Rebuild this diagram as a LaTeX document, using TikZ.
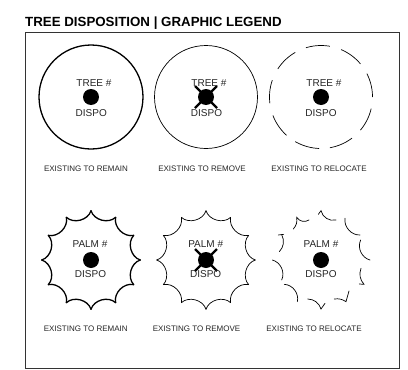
\documentclass[tikz,border=0pt]{standalone}
\usepackage{fontspec}
\setmainfont{Liberation Sans}
\tikzset{
  x=1pt,y=-1pt,
  titletext/.style={inner sep=0,anchor=base west,font=\bfseries\fontsize{13.3}{14}\selectfont},
  num/.style={inner sep=0,font=\fontsize{10}{12}\selectfont,text=black!85},
  captext/.style={inner sep=0,font=\fontsize{8}{10}\selectfont,text=black!85},
  thickline/.style={line width=1.3pt},
  thinline/.style={line width=0.7pt},
  dot/.style={circle,fill=black,inner sep=0,minimum size=16pt},
  crossmark/.style={line width=2.2pt},
  frag/.style={line width=0.7pt,x=0.3333pt,y=-0.3333pt,line cap=round},
}
\newcommand{\scallop}[1]{%
  \foreach \a in {0,30,...,330}{
    \pgfmathsetmacro{\b}{\a+30}
    \draw[#1,line cap=round] (\a:49.3) to[bend right=58] (\b:49.3);
  }%
}
\begin{document}
\begin{tikzpicture}
\useasboundingbox (0,0) rectangle (408,370);
\fill[white] (0,0) rectangle (408,370);
\node[titletext] (t) at (25,26) {TREE DISPOSITION | GRAPHIC LEGEND};
\draw[line width=0.8pt,black!80] (25,32) rectangle (399,368);
% tree row
\draw[thickline] (91,97) circle (52);
\draw[thinline] (206,97) circle (51.5);
\foreach \p/\q in {80/107,40/67,0/27,-40/-13,-80/-53,-120/-92,-159/-132,-199/-173,-240/-213}{
  \draw[thinline] plot[domain=\p:\q,smooth,samples=12,variable=\t] ({321+51.5*cos(\t)},{97-51.5*sin(\t)});
}
\foreach \x/\n in {91/a,206/b,321/c}{\node[dot] (d\n) at (\x,97) {};}
\draw[crossmark] (195,86) -- (217,108) (195,108) -- (217,86);
\node[num] (a1) at (94,82.6) {TREE \#};
\node[num] (a2) at (91.3,112.6) {DISPO};
\node[num] (b1) at (209,82.6) {TREE \#};
\node[num] (b2) at (206.5,112.6) {DISPO};
\node[num] (c1) at (324,82.6) {TREE \#};
\node[num] (c2) at (321,112.6) {DISPO};
\node[captext] (a3) at (86,169) {EXISTING TO REMAIN};
\node[captext] (b3) at (202,169) {EXISTING TO REMOVE};
\node[captext] (c3) at (319,169) {EXISTING TO RELOCATE};
% palm row
\begin{scope}[shift={(91,260)}]\scallop{thickline}\end{scope}
\begin{scope}[shift={(206,260)}]\scallop{thinline}\end{scope}
\foreach \x/\n in {91/e,206/f,321/g}{\node[dot] (d\n) at (\x,260) {};}
\draw[crossmark] (195,249) -- (217,271) (195,271) -- (217,249);
\begin{scope}[shift={(321,260)}]
\draw[frag] (-83,-93) to[bend right=25] (-73,-128) to[bend right=45] (-36,-120);
\draw[frag] (-8,-137) -- (0,-148) to[bend right=45] (45,-120);
\draw[frag] (72,-125) to[bend right=50] (117,-75);
\draw[frag] (119,-60) to[bend right=50] (147,0);
\draw[frag] (120,25) to[bend right=30] (129,73) -- (115,72);
\draw[frag] (84,93) -- (75,125) to[bend right=20] (40,117);
\draw[frag] (12,130) -- (0,147) to[bend right=35] (-40,117);
\draw[frag] (-71,125) to[bend right=50] (-110,73);
\draw[frag] (-118,60) to[bend right=50] (-146,0);
\draw[frag] (-125,-25) to[bend right=35] (-118,-76);
\draw[frag] (-128,-75) -- (-112,-77);
\end{scope}
\node[num] (e1) at (90,244) {PALM \#};
\node[num] (e2) at (90.5,273.7) {DISPO};
\node[num] (f1) at (205.7,244) {PALM \#};
\node[num] (f2) at (205.7,273.7) {DISPO};
\node[num] (g1) at (321,244) {PALM \#};
\node[num] (g2) at (321,273.7) {DISPO};
\node[captext] (e3) at (85.7,328.7) {EXISTING TO REMAIN};
\node[captext] (f3) at (196.5,328.7) {EXISTING TO REMOVE};
\node[captext] (g3) at (314,328.7) {EXISTING TO RELOCATE};
\end{tikzpicture}
\end{document}
